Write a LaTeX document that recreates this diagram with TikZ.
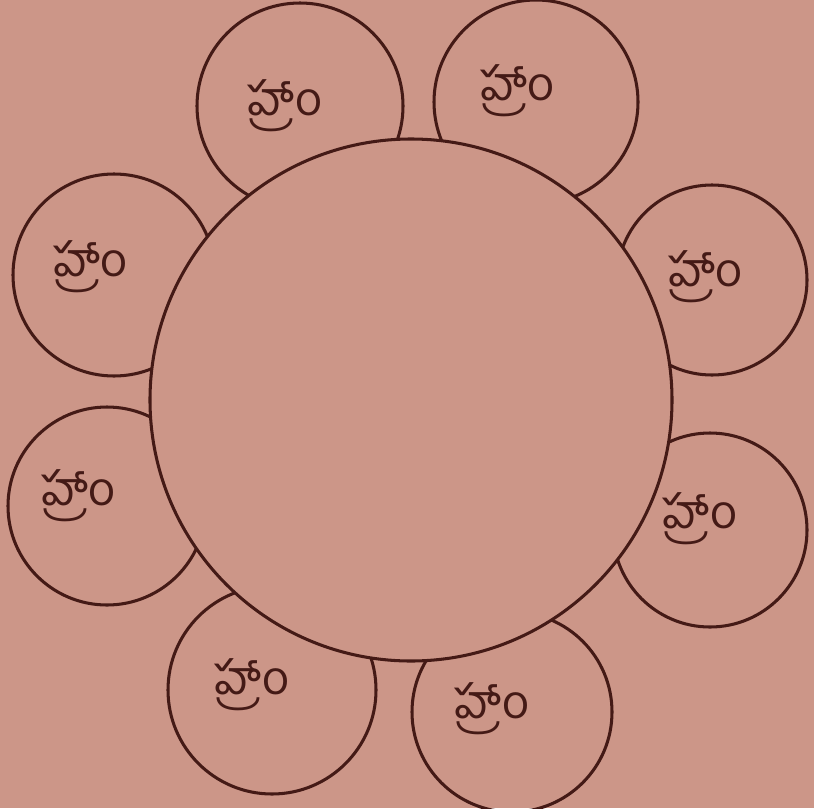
\documentclass[tikz,border=0pt]{standalone}
\usepackage{fontspec}
\newfontfamily\telugufont[Script=Telugu]{Hind Guntur}
\definecolor{paper}{RGB}{204,150,136}
\definecolor{ink}{RGB}{68,26,22}
\tikzset{
  petal/.style={draw=ink, line width=2.6pt},
  bija/.style={text=ink, font=\telugufont\fontsize{40}{44}\selectfont, inner sep=0pt}
}
\begin{document}
\begin{tikzpicture}[x=0.03cm, y=0.03cm]
        \fill[paper] (0,0) rectangle (814,-808);
        \useasboundingbox (0,0) rectangle (814,-808);
        % outer circles
        \draw[petal] (300,-106) circle (103) node[bija, xshift=-0.45cm, yshift=0cm] (b1) {హ్రాం};
        \draw[petal] (536,-102) circle (102) node[bija, xshift=-0.55cm, yshift=0.35cm] (b2) {హ్రాం};
        \draw[petal] (712,-280) circle (95) node[bija, xshift=-0.2cm, yshift=0.1cm] (b3) {హ్రాం};
        \draw[petal] (710,-530) circle (97) node[bija, xshift=-0.3cm, yshift=0.35cm] (b4) {హ్రాం};
        \draw[petal] (512,-712) circle (100) node[bija, xshift=-0.6cm, yshift=0.1cm] (b5) {హ్రాం};
        \draw[petal] (272,-690) circle (104) node[bija, xshift=-0.6cm, yshift=0.15cm] (b6) {హ్రాం};
        \draw[petal] (107,-506) circle (99) node[bija, xshift=-0.85cm, yshift=0.3cm] (b7) {హ్రాం};
        \draw[petal] (114,-275) circle (101) node[bija, xshift=-0.7cm, yshift=0.25cm] (b8) {హ్రాం};
        % middle circle on top
        \draw[petal, fill=paper] (411,-400) circle (261);
    \end{tikzpicture}
\end{document}
